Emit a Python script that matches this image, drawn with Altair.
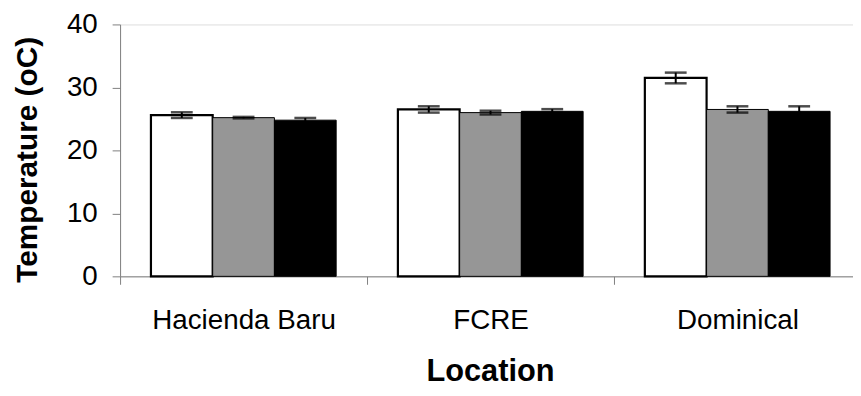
import altair as alt
import pandas as pd

locations = ["Hacienda Baru", "FCRE", "Dominical"]
groups = ["A", "B", "C"]
bar_colors = ["#ffffff", "#969696", "#000000"]

# mean temperature per location for each of the three series
vals_a = [25.6, 26.5, 31.5]
vals_b = [25.2, 26.0, 26.5]
vals_c = [24.8, 26.2, 26.2]
# error (+/-)
errs_a = [0.45, 0.5, 0.85]
errs_b = [0.12, 0.3, 0.5]
errs_c = [0.35, 0.35, 0.8]

y_ticks = [0, 10, 20, 30, 40]

rows = []
for g, vals, errs in zip(groups, [vals_a, vals_b, vals_c], [errs_a, errs_b, errs_c]):
    for loc, v, e in zip(locations, vals, errs):
        rows.append({"loc": loc, "grp": g, "val": v, "lo": v - e, "hi": v + e})
df = pd.DataFrame(rows)

FONT = "Liberation Sans"

x_scale = alt.Scale(paddingInner=0, paddingOuter=0)

x_enc = alt.X(
    "loc:N",
    sort=locations,
    scale=x_scale,
    axis=alt.Axis(
        title="Location",
        tickBand="extent",
        tickSize=8,
        tickColor="#808080",
        domainColor="#808080",
        labelAngle=0,
        labelLimit=0,
        labelFont=FONT,
        labelFontSize=28,
        labelColor="black",
        labelBaseline="alphabetic",
        labelPadding=45,
        titleFont=FONT,
        titleFontSize=31,
        titleFontWeight="bold",
        titleColor="black",
        titleBaseline="alphabetic",
        titleX=373,
        titleY=105,
        titleAlign="center",
    ),
)
xoff = alt.XOffset("grp:N", sort=groups, scale=alt.Scale(paddingInner=0, paddingOuter=0.5))

y_scale = alt.Scale(domain=[0, 40], nice=False)

base = alt.Chart(df)

bars_white = base.transform_filter(alt.datum.grp == "A").mark_bar(
    stroke="black", strokeWidth=2.2
).encode(
    x=x_enc,
    xOffset=xoff,
    y=alt.Y(
        "val:Q",
        scale=y_scale,
        axis=alt.Axis(
            values=y_ticks,
            grid=False,
            tickSize=8,
            tickColor="#808080",
            domainColor="#808080",
            labelFont=FONT,
            labelFontSize=28,
            labelColor="black",
            labelPadding=15,
            title="Temperature (oC)",
            titleFont=FONT,
            titleFontSize=30,
            titleFontWeight="bold",
            titleColor="black",
            titleAngle=270,
            titleBaseline="alphabetic",
            titleAlign="center",
            titleX=-84,
            titleY=136,
        ),
    ),
    color=alt.Color("grp:N", scale=alt.Scale(domain=groups, range=bar_colors), legend=None),
)

bars_other = base.transform_filter(alt.datum.grp != "A").mark_bar(
    stroke="black", strokeWidth=1
).encode(
    x=alt.X("loc:N", sort=locations),
    xOffset=xoff,
    y=alt.Y("val:Q", scale=y_scale),
    color=alt.Color("grp:N", scale=alt.Scale(domain=groups, range=bar_colors), legend=None),
)

err_line = base.mark_rule(color="black", strokeWidth=2).encode(
    x=alt.X("loc:N", sort=locations),
    xOffset=xoff,
    y=alt.Y("lo:Q", scale=y_scale),
    y2="hi:Q",
)

cap_hi = base.mark_tick(color="black", thickness=2.5, size=22, orient="horizontal").encode(
    x=alt.X("loc:N", sort=locations),
    xOffset=xoff,
    y=alt.Y("hi:Q", scale=y_scale),
)
cap_lo = base.mark_tick(color="black", thickness=2.5, size=22, orient="horizontal").encode(
    x=alt.X("loc:N", sort=locations),
    xOffset=xoff,
    y=alt.Y("lo:Q", scale=y_scale),
)

chart = alt.layer(bars_white, bars_other, err_line, cap_hi, cap_lo).properties(
    width=747,
    height=254,
    autosize=alt.AutoSizeParams(type="none"),
    padding={"left": 113, "top": 15, "right": -8, "bottom": 110},
).configure_view(stroke=None).configure(background="white")

chart.save("out.html", embed_options={"renderer": "svg", "actions": False})
